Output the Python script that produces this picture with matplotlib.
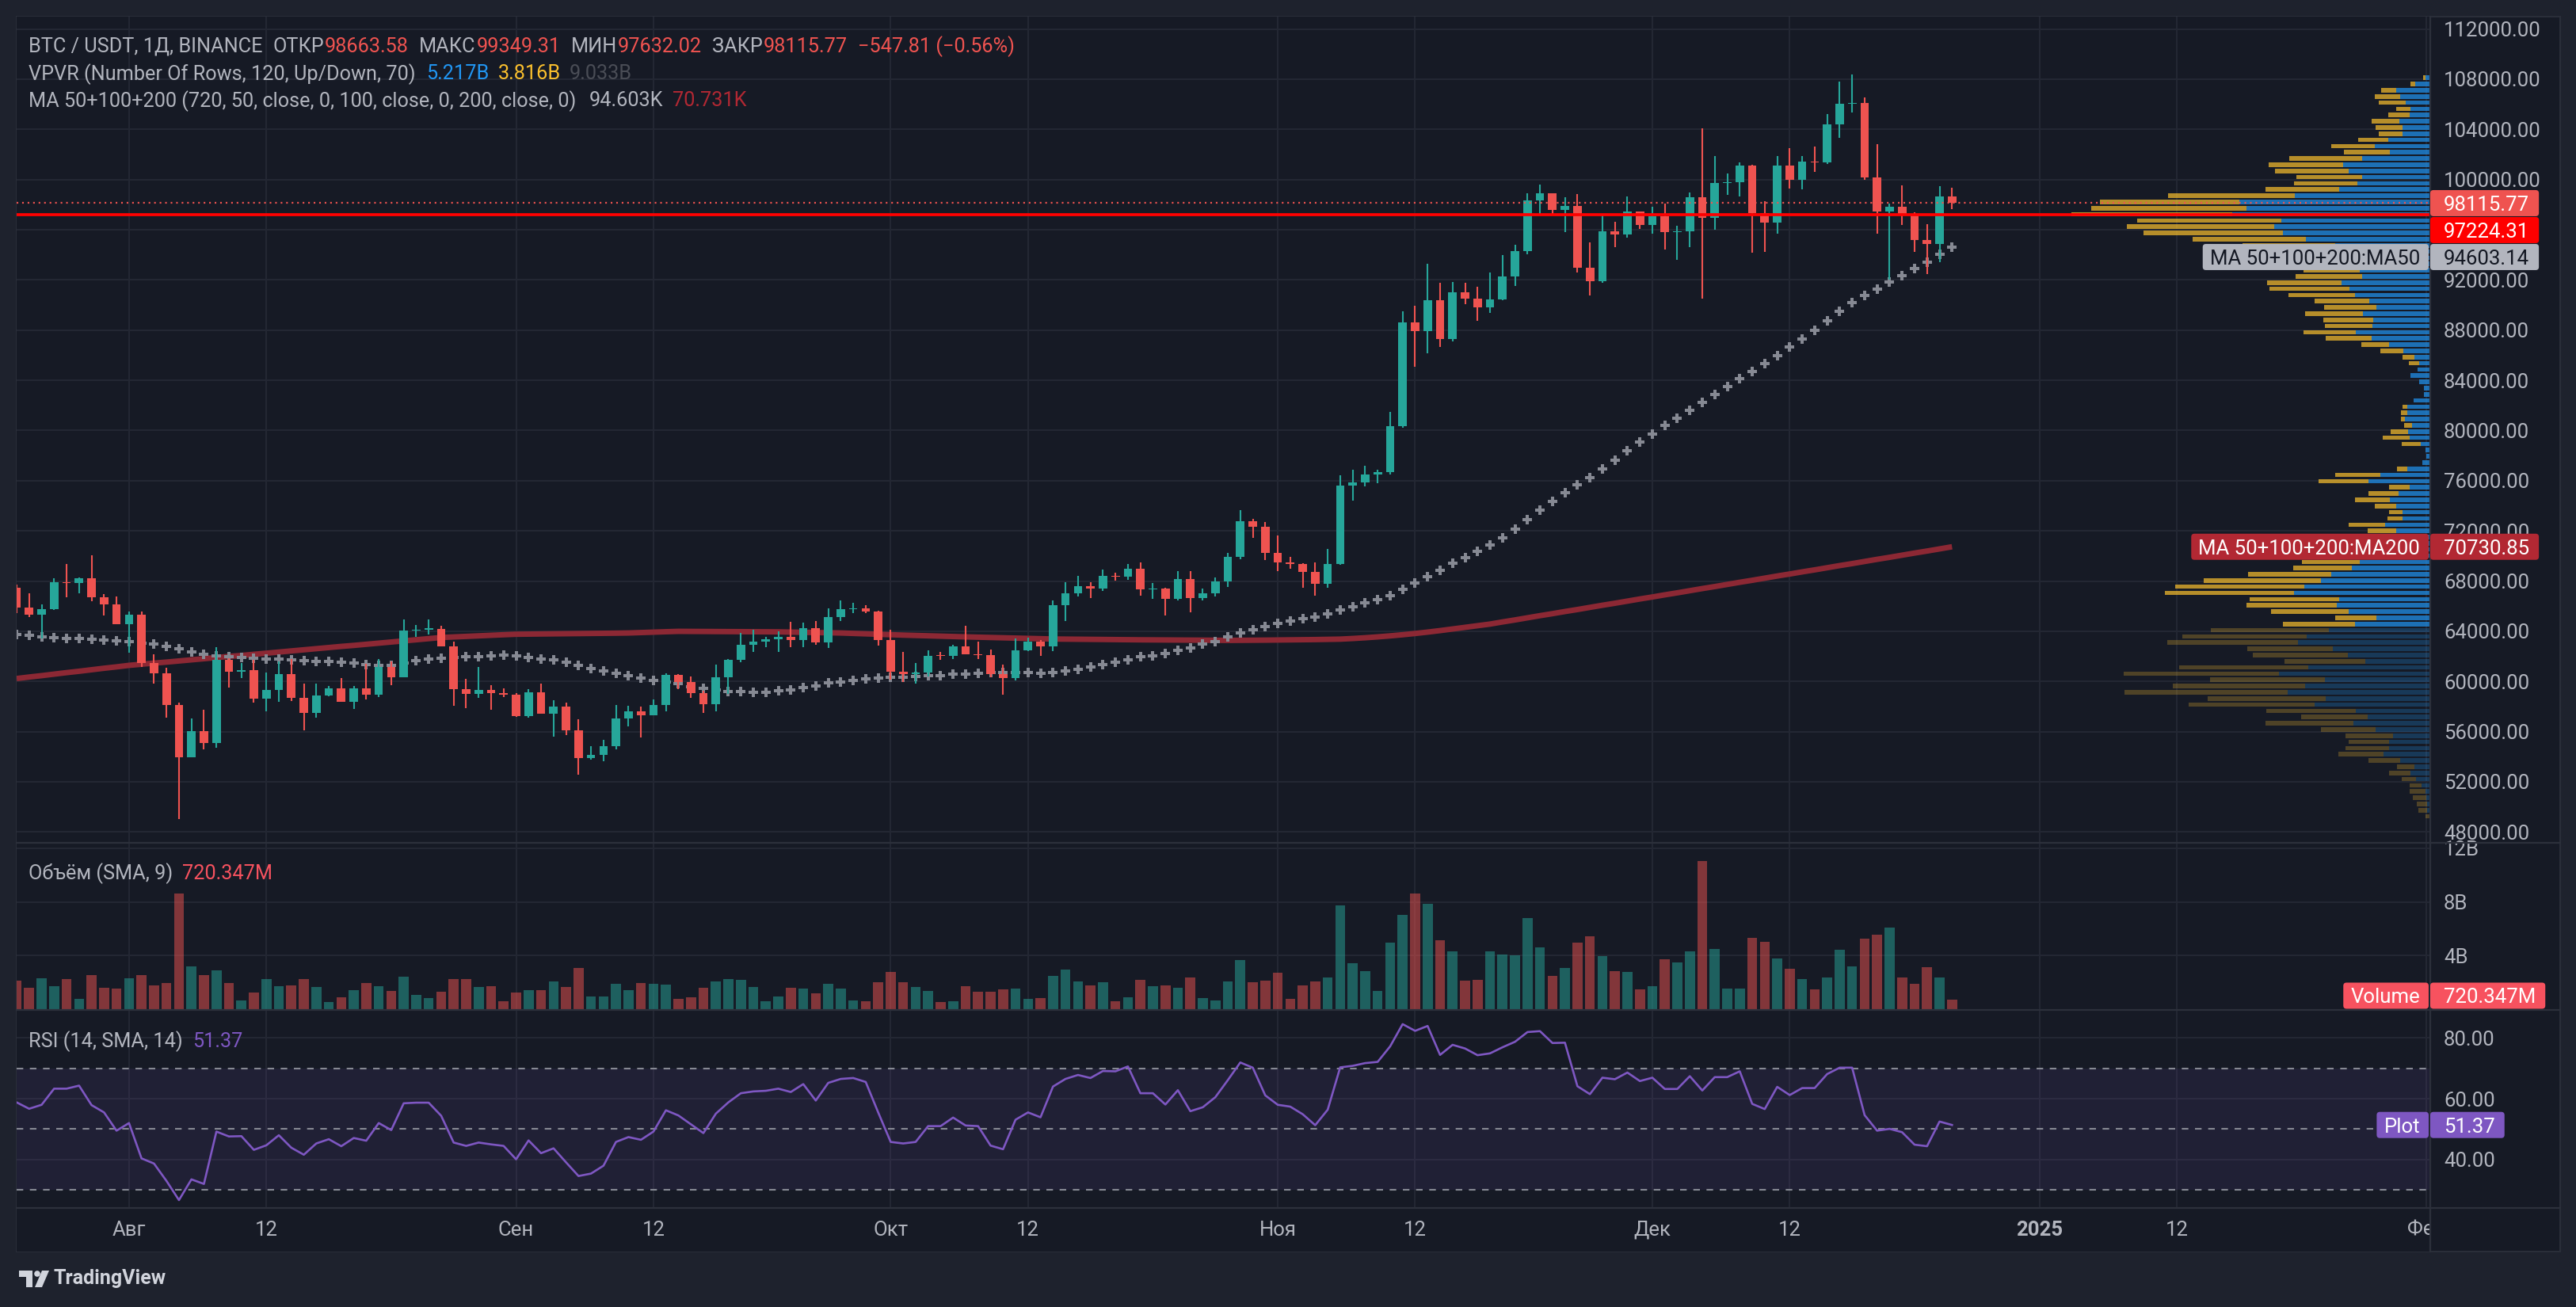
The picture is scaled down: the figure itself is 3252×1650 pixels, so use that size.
import numpy as np
import pandas as pd
import matplotlib
matplotlib.use("Agg")
import matplotlib.pyplot as plt
from matplotlib.patches import FancyBboxPatch, Rectangle, Polygon, Circle
from matplotlib.transforms import IdentityTransform
from matplotlib.colors import to_rgba
from matplotlib.lines import Line2D

plt.rcParams['font.family'] = ['Roboto', 'DejaVu Sans']
plt.rcParams['lines.scale_dashes'] = False

# ---------------- data ----------------
start_date = "2024-07-23"

opens = [67480, 65880, 65330, 65770, 67880, 67820, 68200, 66720, 66140, 64570,
         65330, 61470, 60660, 58130, 53980, 56020, 55100, 61690, 60800, 60900,
         58650, 59300, 60570, 58680, 57520, 58850, 59470, 58400, 59420, 58970,
         61130, 60330, 64050, 64150, 64200, 62800, 59380, 59010, 59340, 59080,
         58950, 57260, 59110, 57450, 57970, 56120, 53920, 54130, 54860, 57030,
         57610, 57310, 58110, 60490, 59950, 59090, 58190, 60300, 61750, 62910,
         63200, 63330, 63540, 63310, 64230, 63120, 65160, 65750, 65850, 65570,
         63300, 60780, 60600, 60730, 62060, 62020, 62780, 62180, 62110, 60580,
         60250, 62470, 63180, 62810, 66050, 67050, 67580, 67370, 68380, 68330,
         68990, 67340, 67370, 66600, 68160, 66620, 67030, 67950, 69920, 72740,
         72300, 70250, 69470, 69340, 68740, 67810, 69350, 75590, 75860, 76510,
         76670, 80340, 88610, 87890, 90360, 87280, 91010, 90520, 89820, 90430,
         92300, 94270, 98340, 98880, 97600, 97880, 92990, 91920, 95850, 95600,
         97450, 96380, 97050, 95800, 95850, 98580, 96920, 99720, 99790, 101100,
         97330, 96550, 101110, 99960, 101400, 101350, 104370, 106040, 106090, 100190,
         97420, 97800, 97270, 95150, 94840, 98663.58]

highs = [67720, 67050, 66160, 68200, 69380, 68300, 70040, 66970, 66790, 65590,
         65550, 62190, 61100, 58280, 57020, 57715, 62720, 61850, 61450, 61700,
         60680, 61600, 61780, 59830, 59830, 59650, 60250, 59610, 61410, 61810,
         61600, 64920, 64470, 64970, 64460, 63190, 60230, 61140, 59700, 59420,
         59060, 59400, 59810, 58500, 58300, 56970, 54830, 55320, 58090, 58030,
         57980, 58550, 60640, 60580, 60370, 59250, 61330, 61770, 63850, 64100,
         63530, 63990, 64720, 64660, 64800, 65800, 66480, 66240, 66050, 65620,
         64090, 62370, 61450, 62460, 62330, 62950, 64460, 63160, 62510, 61310,
         63400, 63460, 63270, 66470, 67930, 68390, 67930, 68940, 68650, 69380,
         69480, 67820, 67450, 68820, 68770, 67420, 68310, 70220, 73630, 72950,
         72690, 71630, 69910, 69390, 69490, 70560, 76450, 76850, 77170, 76870,
         81480, 89480, 89920, 93260, 91750, 91820, 91760, 91430, 92570, 93950,
         94790, 98920, 99590, 98890, 98560, 98850, 94970, 97130, 96600, 98630,
         97460, 97820, 98110, 96300, 98980, 104080, 101880, 100480, 101380, 101150,
         98260, 101880, 102510, 101880, 102620, 105220, 107790, 108353, 106530, 102800,
         98100, 99530, 97400, 96450, 99460, 99349.31]

lows = [65420, 65100, 63440, 65690, 66700, 67030, 66420, 65280, 64530, 62260,
        61160, 59830, 57110, 49000, 53950, 54570, 54740, 59520, 60270, 58300,
        57620, 58380, 58440, 56110, 57100, 58790, 58380, 57780, 58560, 58780,
        59700, 60300, 63550, 63760, 62780, 58030, 57850, 58670, 57720, 58740,
        57160, 57110, 57440, 55600, 55700, 52550, 53750, 53630, 54590, 56400,
        55530, 57300, 57630, 59400, 58690, 57470, 57610, 59000, 61540, 62340,
        62730, 62340, 62760, 62700, 62930, 62670, 64800, 65420, 65420, 62840,
        60150, 59960, 59830, 60400, 61690, 61780, 62150, 61810, 60300, 58920,
        60060, 62440, 62020, 62440, 64790, 66740, 66630, 67200, 68010, 68090,
        66820, 66560, 65240, 66450, 65520, 66440, 66800, 67530, 69750, 71440,
        69700, 68800, 69000, 67490, 66850, 67470, 69320, 74420, 75560, 75770,
        76490, 80220, 85070, 86130, 86650, 87070, 90040, 88710, 89350, 90400,
        91490, 94060, 97200, 97200, 95800, 92580, 90770, 91800, 94600, 95380,
        96040, 95690, 94390, 93590, 94630, 90500, 95980, 98800, 98670, 94160,
        94240, 95700, 99300, 99200, 100600, 101230, 103300, 105330, 100000, 95700,
        92050, 96390, 94210, 92460, 93400, 97632.02]

closes = [65880, 65330, 65770, 67880, 67820, 68200, 66720, 66140, 64570, 65330,
          61470, 60660, 58130, 53980, 56020, 55100, 61690, 60800, 60900, 58650,
          59300, 60570, 58680, 57520, 58850, 59470, 58400, 59420, 58970, 61130,
          60330, 64050, 64150, 64200, 62800, 59380, 59010, 59340, 59080, 58950,
          57260, 59110, 57450, 57970, 56120, 53920, 54130, 54860, 57030, 57610,
          57310, 58110, 60490, 59950, 59090, 58190, 60300, 61750, 62910, 63200,
          63330, 63540, 63310, 64230, 63120, 65160, 65750, 65850, 65570, 63300,
          60780, 60600, 60730, 62060, 62020, 62780, 62180, 62110, 60580, 60250,
          62470, 63180, 62810, 66050, 67050, 67580, 67370, 68380, 68330, 68990,
          67340, 67370, 66600, 68160, 66620, 67030, 67950, 69920, 72740, 72300,
          70250, 69470, 69340, 68740, 67810, 69350, 75590, 75860, 76510, 76670,
          80340, 88610, 87890, 90360, 87280, 91010, 90520, 89820, 90430, 92300,
          94270, 98340, 98880, 97600, 97880, 92990, 91920, 95850, 95600, 97450,
          96380, 97050, 95800, 95850, 98580, 96920, 99720, 99790, 101100, 97330,
          96550, 101110, 99960, 101400, 101350, 104370, 106040, 106090, 100190, 97420,
          97800, 97270, 95150, 94840, 98663.58, 98115.77]

volume_musdt = [2136, 1607, 2313, 1725, 2254, 784, 2548, 1607, 1548, 2313,
                2548, 1784, 1960, 8604, 3195, 2548, 2901, 1960, 666, 1254,
                2254, 1725, 1784, 2254, 1666, 549, 902, 1431, 1960, 1725,
                1372, 2430, 1078, 843, 1313, 2254, 2254, 1666, 1725, 608,
                1254, 1431, 1431, 2078, 1666, 3077, 960, 960, 1901, 1431,
                1960, 1901, 1842, 784, 902, 1607, 2078, 2254, 2195, 1666,
                608, 960, 1607, 1548, 1196, 1901, 1548, 666, 608, 2019,
                2783, 2019, 1666, 1372, 549, 608, 1725, 1313, 1313, 1490,
                1548, 784, 843, 2489, 2960, 2078, 1784, 2019, 608, 902,
                2195, 1725, 1784, 1607, 2372, 843, 666, 2078, 3665, 2019,
                2136, 2724, 784, 1784, 2078, 2372, 7722, 3430, 2842, 1372,
                4959, 7017, 8604, 7840, 5135, 4312, 2136, 2195, 4312, 4077,
                4018, 6782, 4606, 2489, 3077, 4959, 5429, 3959, 2842, 2783,
                1490, 1725, 3724, 3489, 4312, 11074, 4488, 1548, 1548, 5312,
                5018, 3783, 3018, 2254, 1490, 2372, 4430, 3195, 5253, 5547,
                6076, 2372, 1901, 3136, 2372, 720.347]

rsi_values = [58.8, 56.7, 58.0, 63.3, 63.3, 64.3, 57.9, 55.5, 49.5, 52.0,
              40.4, 38.7, 33.0, 26.7, 33.5, 32.0, 49.2, 47.6, 47.7, 43.2,
              44.7, 48.0, 43.9, 41.6, 45.3, 46.7, 44.4, 47.1, 46.2, 52.0,
              49.7, 58.5, 58.7, 58.7, 54.4, 45.6, 44.5, 45.6, 45.0, 44.5,
              40.1, 46.3, 42.1, 43.7, 39.1, 34.6, 35.4, 38.0, 45.8, 47.4,
              46.5, 49.2, 56.2, 54.5, 51.6, 48.7, 55.1, 58.8, 61.8, 62.4,
              62.6, 63.3, 62.2, 64.8, 59.4, 65.2, 66.5, 66.8, 65.5, 55.5,
              45.8, 45.3, 45.8, 51.0, 51.0, 53.8, 51.2, 51.0, 44.6, 43.4,
              53.1, 55.5, 53.9, 64.0, 66.5, 67.8, 66.8, 69.1, 69.0, 70.6,
              61.8, 61.8, 58.1, 62.8, 55.9, 57.2, 60.5, 66.1, 71.9, 70.2,
              61.1, 58.0, 57.4, 54.9, 51.3, 56.4, 70.3, 70.8, 71.7, 72.1,
              77.2, 84.5, 82.3, 83.9, 74.4, 77.7, 76.5, 74.3, 74.9, 76.9,
              78.7, 81.9, 82.2, 78.3, 78.4, 64.1, 61.5, 66.9, 66.4, 68.6,
              65.8, 66.9, 63.2, 63.2, 67.4, 62.7, 67.1, 67.1, 69.0, 58.3,
              56.6, 63.9, 61.2, 63.5, 63.5, 68.1, 70.2, 70.2, 54.6, 49.5,
              50.1, 49.0, 44.9, 44.4, 52.5, 51.37]

ma50_values = [63720, 63650, 63550, 63460, 63440, 63400, 63340, 63270, 63210, 63150,
               63050, 62960, 62810, 62580, 62330, 62160, 62060, 61950, 61910, 61830,
               61760, 61760, 61720, 61640, 61600, 61570, 61510, 61450, 61320, 61300,
               61300, 61470, 61640, 61760, 61870, 61930, 61950, 62000, 62020, 62080,
               62020, 61930, 61810, 61700, 61510, 61300, 61050, 60820, 60630, 60440,
               60250, 60080, 59970, 59810, 59600, 59450, 59310, 59220, 59220, 59160,
               59160, 59240, 59350, 59540, 59660, 59920, 59980, 60100, 60190, 60270,
               60340, 60360, 60380, 60440, 60480, 60570, 60610, 60670, 60700, 60710,
               60740, 60740, 60670, 60740, 60840, 60990, 61180, 61360, 61510, 61740,
               61950, 62060, 62250, 62480, 62690, 62960, 63190, 63530, 63850, 64140,
               64400, 64630, 64810, 64990, 65160, 65380, 65690, 65970, 66240, 66510,
               66850, 67350, 67840, 68370, 68850, 69400, 69880, 70370, 70870, 71440,
               72130, 72880, 73650, 74350, 75070, 75670, 76270, 76940, 77640, 78380,
               79060, 79740, 80400, 81000, 81630, 82220, 82870, 83500, 84150, 84720,
               85300, 85980, 86640, 87310, 87980, 88760, 89500, 90210, 90760, 91290,
               91830, 92360, 92910, 93430, 94040, 94603.14]

ma200_values = [60230, 60350, 60460, 60580, 60700, 60810, 60930, 61050, 61160, 61280,
                61370, 61460, 61540, 61630, 61720, 61810, 61900, 61990, 62070, 62160,
                62250, 62340, 62430, 62520, 62610, 62700, 62790, 62870, 62960, 63050,
                63140, 63230, 63320, 63410, 63500, 63545, 63590, 63630, 63675, 63720,
                63760, 63770, 63780, 63790, 63800, 63810, 63820, 63830, 63845, 63860,
                63895, 63930, 63960, 63990, 63985, 63980, 63975, 63970, 63965, 63960,
                63955, 63950, 63930, 63910, 63895, 63880, 63860, 63825, 63790, 63755,
                63720, 63690, 63665, 63635, 63605, 63580, 63550, 63525, 63500, 63475,
                63450, 63430, 63405, 63380, 63370, 63360, 63350, 63340, 63330, 63320,
                63315, 63310, 63300, 63295, 63290, 63285, 63280, 63270, 63275, 63280,
                63290, 63300, 63310, 63320, 63335, 63350, 63370, 63420, 63480, 63550,
                63630, 63720, 63820, 63930, 64050, 64180, 64310, 64440, 64570, 64740,
                64900, 65070, 65240, 65400, 65570, 65730, 65900, 66070, 66230, 66400,
                66570, 66730, 66900, 67060, 67230, 67400, 67560, 67730, 67900, 68060,
                68230, 68400, 68560, 68730, 68890, 69060, 69230, 69390, 69560, 69730,
                69890, 70060, 70230, 70390, 70560, 70730.85]

# Volume profile: 120 rows listed from the top (highest price) down, relative lengths
vpvr_up = [15, 45, 103, 91, 74, 59, 63, 93, 85, 85,
           127, 168, 122, 206, 264, 247, 206, 221, 276, 411,
           579, 557, 601, 452, 473, 447, 377, 288, 260, 240,
           230, 215, 206, 269, 245, 229, 185, 163, 204, 173,
           175, 226, 177, 125, 81, 48, 34, 38, 60, 33,
           19, 19, 50, 69, 70, 76, 55, 67, 62, 28,
           14, 12, 24, 69, 151, 187, 63, 96, 122, 103,
           84, 84, 137, 103, 150, 170, 200, 210, 214, 238,
           300, 331, 382, 413, 276, 283, 247, 163, 228, 307,
           375, 401, 297, 250, 197, 370, 459, 319, 379, 432,
           317, 351, 226, 189, 233, 165, 113, 125, 125, 141,
           91, 48, 60, 43, 26, 14, 12, 9, 9, 0]
vpvr_down = [6, 15, 46, 77, 82, 44, 64, 84, 80, 71,
             91, 132, 140, 222, 226, 224, 200, 192, 224, 385,
             423, 472, 488, 437, 448, 423, 344, 281, 200, 190,
             180, 170, 202, 226, 243, 201, 166, 159, 175, 151,
             144, 158, 140, 84, 70, 36, 30, 0, 0, 0,
             0, 0, 0, 15, 18, 12, 24, 53, 82, 58,
             0, 0, 0, 32, 137, 152, 62, 91, 106, 65,
             41, 45, 110, 86, 120, 130, 150, 170, 175, 178,
             253, 356, 392, 392, 272, 274, 236, 125, 219, 359,
             377, 397, 258, 288, 245, 392, 471, 349, 402, 496,
             358, 382, 271, 203, 267, 166, 144, 122, 132, 137,
             96, 53, 65, 43, 36, 48, 40, 31, 27, 14]
vpvr_value_area_low = 64400
vpvr_totals_b = [5.217, 3.816, 9.033]

price_ticks = list(range(48000, 112001, 4000))
volume_ticks_b = [4, 8, 12]
rsi_ticks = [40, 60, 80]
rsi_levels = [70, 50, 30]
time_ticks = [("2024-08-01", "Авг"), ("2024-08-12", "12"), ("2024-09-01", "Сен"),
              ("2024-09-12", "12"), ("2024-10-01", "Окт"), ("2024-10-12", "12"),
              ("2024-11-01", "Ноя"), ("2024-11-12", "12"), ("2024-12-01", "Дек"),
              ("2024-12-12", "12"), ("2025-01-01", "2025"), ("2025-01-12", "12"),
              ("2025-02-01", "Фев")]

# ---------------- style / layout ----------------
W, H = 3252, 1650
PL, PR, AR = 21, 3068, 3232
MT, MB = 21, 1063
VT, VB = 1065, 1274
RT, RB = 1276, 1525
TB = 1580
OUTER = '#1e222d'
BG = '#161a25'
GRID = '#242834'
SEP = '#2c303b'
TXT = '#b2b5be'
UP = '#26a69a'
DOWN = '#ef5350'
FS = 18.5
YSHIFT = 2.5
XMIN, XMAX = 0.0, 193.3
PRICE_LIM = (47200, 112980)
VOL_LIM = (0, 12350)
RSI_LIM = (24.1, 88.9)

o = np.array(opens, float); h = np.array(highs, float)
l = np.array(lows, float); c = np.array(closes, float)
n = len(c)
x = np.arange(n)
dates = pd.date_range(start_date, periods=n, freq='D')
is_up = c >= o
cols = np.where(is_up, UP, DOWN)

fig = plt.figure(figsize=(W / 100, H / 100), dpi=100, facecolor=OUTER)
IT = IdentityTransform()
fig.add_artist(Rectangle((PL, H - TB), AR - PL, TB - MT, transform=IT,
                         facecolor=BG, edgecolor='#2a2e39', lw=1.5, zorder=-5))


def add_ax(top, bottom):
    a = fig.add_axes([PL / W, 1 - bottom / H, (PR - PL) / W, (bottom - top) / H])
    a.set_facecolor(BG)
    a.set_xlim(XMIN, XMAX)
    for s in a.spines.values():
        s.set_visible(False)
    a.set_xticks([]); a.set_yticks([])
    return a


ax = add_ax(MT, MB)
axv = add_ax(VT, VB)
axr = add_ax(RT, RB)
axt = add_ax(RB, TB)
ax.set_ylim(*PRICE_LIM)
axv.set_ylim(*VOL_LIM)
axr.set_ylim(*RSI_LIM)
axt.set_ylim(0, 1)

tick_idx = [(pd.Timestamp(d) - dates[0]).days for d, _ in time_ticks]

# grids
for a in (ax, axv, axr):
    for ti in tick_idx:
        a.axvline(ti, color=GRID, lw=1.4, zorder=0)
for p in price_ticks:
    ax.axhline(p, color=GRID, lw=1.4, zorder=0)
for v in volume_ticks_b:
    axv.axhline(v * 1000, color=GRID, lw=1.4, zorder=0)
for r in rsi_ticks:
    axr.axhline(r, color=GRID, lw=1.4, zorder=0)

# MA lines
ax.plot(x, ma200_values, color='#8c2834', lw=5.0, solid_capstyle='butt', zorder=2)
ax.plot(x, ma50_values, ls='none', marker='P', ms=9, color='#868993', mew=0, zorder=3)

# candles
ax.vlines(x, l, h, colors=cols, lw=1.5, zorder=4)
body = np.maximum(np.abs(c - o), 80)
ax.bar(x, body, bottom=np.minimum(o, c), width=0.68, color=cols, lw=0, zorder=5)

# volume profile (overlay axes)
axp = fig.add_axes(ax.get_position())
axp.patch.set_alpha(0)
axp.set_axis_off()
axp.set_ylim(*PRICE_LIM)
vu = np.array(vpvr_up[::-1], float)
vd = np.array(vpvr_down[::-1], float)
rows = len(vu)
lo, hi = l.min(), h.max()
rowh = (hi - lo) / rows
centers = lo + rowh * (np.arange(rows) + 0.5)
tot = vu + vd
poc_price = centers[np.argmax(tot)]
in_va = centers >= vpvr_value_area_low
axp.set_xlim(tot.max() / 0.1486, 0)
cu = [to_rgba('#2196f3', 0.70 if v else 0.25) for v in in_va]
cd = [to_rgba('#fbc02d', 0.70 if v else 0.25) for v in in_va]
axp.barh(centers, vu, height=rowh * 0.72, left=0, color=cu, lw=0)
axp.barh(centers, vd, height=rowh * 0.72, left=vu, color=cd, lw=0)
axp.axhline(c[-1], color=DOWN, lw=1.6, ls=(0, (1.5, 3.5)), zorder=6)
axp.axhline(poc_price, color='#ff0000', lw=2.7, zorder=7)

# volume bars
vcols = [to_rgba(UP if u else DOWN, 0.5) for u in is_up]
axv.bar(x, volume_musdt, width=0.8, color=vcols, lw=0, zorder=3)

# RSI
axr.axhspan(30, 70, color='#7e57c2', alpha=0.1, lw=0, zorder=1)
for lv in rsi_levels:
    axr.axhline(lv, color='#868993', lw=1.5, ls=(0, (6, 6)), zorder=2)
axr.plot(x, rsi_values, color='#7e57c2', lw=1.9, zorder=4)

renderer = fig.canvas.get_renderer()


def ypx(a, v):
    return H - a.transData.transform((0, v))[1]


def ptext(xp, yp, s, color, size=FS, ha='left', weight='normal', z=10):
    return fig.text(xp, H - yp - YSHIFT, s, color=color, fontsize=size, ha=ha, va='center',
                    fontweight=weight, transform=IT, zorder=z)


def twidth(t):
    return t.get_window_extent(renderer).width


def runs(xp, yp, parts, size=FS):
    for s, col, gap in parts:
        t = ptext(xp, yp, s, col, size)
        xp += twidth(t) + gap


def rbox(x0, x1, yc, color, hh=33, z=11):
    fig.add_artist(FancyBboxPatch((x0, H - yc - hh / 2), x1 - x0, hh,
                                  boxstyle="round,pad=0,rounding_size=4", transform=IT,
                                  facecolor=color, edgecolor='none', zorder=z))


def label(yc, val, bg, fg, name=None):
    t = ptext(3085, yc, val, fg, z=12)
    rbox(PR, 3085 + twidth(t) + 12, yc, bg)
    if name:
        tn = ptext(PR - 2 - 11, yc, name, fg, ha='right', z=12)
        rbox(PR - 2 - 11 - twidth(tn) - 9, PR - 2, yc, bg)


# price axis ticks
for p in price_ticks:
    ptext(3085, ypx(ax, p), f"{p:.2f}", TXT, z=5)
for v in volume_ticks_b:
    ptext(3085, ypx(axv, v * 1000), f"{v}B", TXT, z=5)
for r in rsi_ticks:
    ptext(3085, ypx(axr, r), f"{r:.2f}", TXT, z=5)

# time axis
for ti, (d, s) in zip(tick_idx, time_ticks):
    axt.text(ti, 0.5, s, color=TXT, fontsize=FS, ha='center', va='center',
             fontweight='bold' if s == '2025' else 'normal', clip_on=True)

# separators
for yy in (MB + 1, VB + 1, RB):
    fig.add_artist(Line2D([PL, AR], [H - yy, H - yy], transform=IT, color=SEP, lw=1.6, zorder=8))
fig.add_artist(Line2D([PR, PR], [H - MT, H - TB], transform=IT, color=SEP, lw=1.6, zorder=8))

# right-axis labels for main pane (pushed apart like the platform does)
main_labels = [
    (ypx(ax, c[-1]), f"{c[-1]:.2f}", DOWN, 'white', None),
    (ypx(ax, poc_price), f"{poc_price:.2f}", '#ff0000', 'white', None),
    (ypx(ax, ma50_values[-1]), f"{ma50_values[-1]:.2f}", '#b2b5be', '#131722', "MA 50+100+200:MA50"),
    (ypx(ax, ma200_values[-1]), f"{ma200_values[-1]:.2f}", '#b22833', 'white', "MA 50+100+200:MA200"),
]
main_labels.sort(key=lambda t: t[0])
prev = -1e9
for yc, val, bg, fg, name in main_labels:
    yc = max(yc, prev + 34)
    label(yc, val, bg, fg, name)
    prev = yc

vol_last = volume_musdt[-1]
label(min(ypx(axv, vol_last), VB - 17), f"{vol_last:.3f}M", '#f7525f', 'white', "Volume")
label(ypx(axr, rsi_values[-1]), f"{rsi_values[-1]:.2f}", '#7e57c2', 'white', "Plot")

# legends
chg = c[-1] - c[-2]
pct = chg / c[-2] * 100
fmt = lambda v: f"{v:.2f}".replace('-', '−')
runs(36, 56, [("BTC / USDT, 1Д, BINANCE", TXT, 13), ("ОТКР", TXT, 1), (f"{o[-1]:.2f}", DOWN, 13),
              ("МАКС", TXT, 1), (f"{h[-1]:.2f}", DOWN, 13), ("МИН", TXT, 1), (f"{l[-1]:.2f}", DOWN, 13),
              ("ЗАКР", TXT, 1), (f"{c[-1]:.2f}", DOWN, 13), (f"{fmt(chg)} ({fmt(pct)}%)", DOWN, 0)],
     size=18.2)
runs(36, 91, [("VPVR (Number Of Rows, 120, Up/Down, 70)", TXT, 14),
              (f"{vpvr_totals_b[0]:.3f}B", '#2196f3', 11), (f"{vpvr_totals_b[1]:.3f}B", '#fbc02d', 11),
              (f"{vpvr_totals_b[2]:.3f}B", '#4a4d56', 0)], size=18.2)
runs(36, 125, [("MA 50+100+200 (720, 50, close, 0, 100, close, 0, 200, close, 0)", TXT, 16),
               (f"{ma50_values[-1] / 1000:.3f}K", TXT, 12), (f"{ma200_values[-1] / 1000:.3f}K", '#b22833', 0)],
     size=18.2)
runs(36, 1100, [("Объём (SMA, 9)", TXT, 12), (f"{vol_last:.3f}M", '#f7525f', 0)], size=18.2)
runs(36, 1312, [("RSI (14, SMA, 14)", TXT, 12), (f"{rsi_values[-1]:.2f}", '#7e57c2', 0)], size=18.2)

# TradingView logo
logo_col = '#d1d4dc'
def P(pts):
    return [(px, H - py) for px, py in pts]
fig.add_artist(Polygon(P([(24, 1604), (41, 1604), (41, 1625), (33, 1625), (33, 1612), (24, 1612)]),
                       closed=True, transform=IT, facecolor=logo_col, edgecolor='none'))
fig.add_artist(Circle((47, H - 1608), 3.8, transform=IT, facecolor=logo_col, edgecolor='none'))
fig.add_artist(Polygon(P([(53, 1604), (62, 1604), (53, 1625), (44, 1625)]), closed=True,
                       transform=IT, facecolor=logo_col, edgecolor='none'))
ptext(68, 1612, "TradingView", logo_col, size=18, weight='bold')

fig.savefig('out.png', dpi=100, facecolor=fig.get_facecolor())
